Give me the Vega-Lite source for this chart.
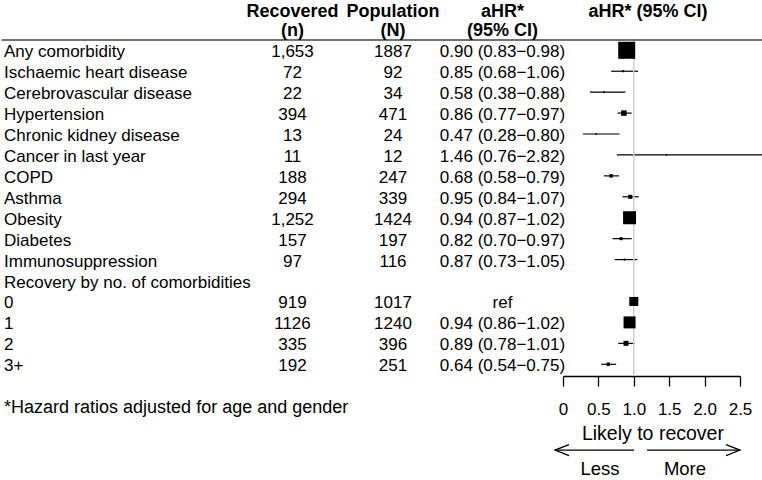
{
  "$schema": "https://vega.github.io/schema/vega-lite/v6.json",
  "width": 762,
  "height": 376,
  "autosize": {"type": "pad"},
  "padding": 0,
  "background": "white",
  "config": {
    "view": {"stroke": null},
    "font": "Liberation Sans",
    "text": {"font": "Liberation Sans", "fontSize": 17, "color": "#000", "dy": 2}
  },
  "datasets": {
    "rows": [
      {"row": 0, "label": "Any comorbidity", "n": "1,653", "N": "1887", "ci": "0.90 (0.83−0.98)", "hr": 0.90, "lo": 0.83, "hi": 0.98, "weight": 289},
      {"row": 1, "label": "Ischaemic heart disease", "n": "72", "N": "92", "ci": "0.85 (0.68−1.06)", "hr": 0.85, "lo": 0.68, "hi": 1.06, "weight": 4},
      {"row": 2, "label": "Cerebrovascular disease", "n": "22", "N": "34", "ci": "0.58 (0.38−0.88)", "hr": 0.58, "lo": 0.38, "hi": 0.88, "weight": 3},
      {"row": 3, "label": "Hypertension", "n": "394", "N": "471", "ci": "0.86 (0.77−0.97)", "hr": 0.86, "lo": 0.77, "hi": 0.97, "weight": 30},
      {"row": 4, "label": "Chronic kidney disease", "n": "13", "N": "24", "ci": "0.47 (0.28−0.80)", "hr": 0.47, "lo": 0.28, "hi": 0.80, "weight": 3},
      {"row": 5, "label": "Cancer in last year", "n": "11", "N": "12", "ci": "1.46 (0.76−2.82)", "hr": 1.46, "lo": 0.76, "hi": 2.82, "weight": 2},
      {"row": 6, "label": "COPD", "n": "188", "N": "247", "ci": "0.68 (0.58−0.79)", "hr": 0.68, "lo": 0.58, "hi": 0.79, "weight": 12},
      {"row": 7, "label": "Asthma", "n": "294", "N": "339", "ci": "0.95 (0.84−1.07)", "hr": 0.95, "lo": 0.84, "hi": 1.07, "weight": 16},
      {"row": 8, "label": "Obesity", "n": "1,252", "N": "1424", "ci": "0.94 (0.87−1.02)", "hr": 0.94, "lo": 0.87, "hi": 1.02, "weight": 169},
      {"row": 9, "label": "Diabetes", "n": "157", "N": "197", "ci": "0.82 (0.70−0.97)", "hr": 0.82, "lo": 0.70, "hi": 0.97, "weight": 9},
      {"row": 10, "label": "Immunosuppression", "n": "97", "N": "116", "ci": "0.87 (0.73−1.05)", "hr": 0.87, "lo": 0.73, "hi": 1.05, "weight": 4},
      {"row": 11, "label": "Recovery by no. of comorbidities", "n": "", "N": "", "ci": "", "hr": null, "lo": null, "hi": null, "weight": null},
      {"row": 12, "label": "0", "n": "919", "N": "1017", "ci": "ref", "hr": 1.0, "lo": null, "hi": null, "weight": 81},
      {"row": 13, "label": "1", "n": "1126", "N": "1240", "ci": "0.94 (0.86−1.02)", "hr": 0.94, "lo": 0.86, "hi": 1.02, "weight": 144},
      {"row": 14, "label": "2", "n": "335", "N": "396", "ci": "0.89 (0.78−1.01)", "hr": 0.89, "lo": 0.78, "hi": 1.01, "weight": 25},
      {"row": 15, "label": "3+", "n": "192", "N": "251", "ci": "0.64 (0.54−0.75)", "hr": 0.64, "lo": 0.54, "hi": 0.75, "weight": 12}
    ]
  },
  "data": {"name": "rows"},
  "layer": [
    {
      "transform": [{"filter": "datum.lo != null"}],
      "mark": {"type": "rule", "color": "#000", "strokeWidth": 1.2},
      "encoding": {
        "x": {"field": "lo", "type": "quantitative",
          "scale": {"domain": [0, 2.5], "range": [561, 738], "nice": false, "zero": false},
          "axis": {"values": [0, 0.5, 1, 1.5, 2, 2.5], "labelExpr": "datum.value == 0 ? '0' : format(datum.value, '.1f')", "title": null, "grid": false, "orient": "bottom",
            "domainColor": "#000", "domainWidth": 1.3, "tickColor": "#000", "tickWidth": 1.3, "tickSize": 10,
            "labelFontSize": 17, "labelColor": "#000", "labelFont": "Liberation Sans", "labelPadding": 15.5, "labelFlush": false, "labelOverlap": false}},
        "x2": {"field": "hi"},
        "y": {"field": "row", "type": "quantitative",
          "scale": {"domain": [-2.403, 15.561], "reverse": true, "nice": false, "zero": false}, "axis": null}
      }
    },
    {
      "data": {"values": [{}]},
      "mark": {"type": "rule", "color": "#d0d0d0", "strokeWidth": 1.5},
      "encoding": {
        "x": {"datum": 1},
        "y": {"datum": -0.49, "axis": null},
        "y2": {"datum": 15.561}
      }
    },
    {
      "data": {"values": [{}]},
      "mark": {"type": "rule", "color": "#444", "strokeWidth": 1.5},
      "encoding": {
        "x": {"datum": -7.93},
        "x2": {"datum": 2.84},
        "y": {"datum": -0.49, "axis": null}
      }
    },
    {
      "transform": [{"filter": "datum.hr != null"}],
      "mark": {"type": "point", "shape": "square", "filled": true, "color": "#000", "opacity": 1},
      "encoding": {
        "x": {"field": "hr", "type": "quantitative"},
        "y": {"field": "row", "type": "quantitative", "axis": null},
        "size": {"field": "weight", "type": "quantitative", "scale": {"type": "linear", "domain": [0, 300], "range": [0, 300]}, "legend": null}
      }
    },
    {
      "mark": {"type": "text", "align": "left"},
      "encoding": {
        "x": {"datum": -7.895},
        "y": {"field": "row", "type": "quantitative", "axis": null},
        "text": {"field": "label"}
      }
    },
    {
      "mark": {"type": "text", "align": "center"},
      "encoding": {
        "x": {"datum": -3.821},
        "y": {"field": "row", "type": "quantitative", "axis": null},
        "text": {"field": "n"}
      }
    },
    {
      "mark": {"type": "text", "align": "center"},
      "encoding": {
        "x": {"datum": -2.401},
        "y": {"field": "row", "type": "quantitative", "axis": null},
        "text": {"field": "N"}
      }
    },
    {
      "mark": {"type": "text", "align": "center"},
      "encoding": {
        "x": {"datum": -0.855},
        "y": {"field": "row", "type": "quantitative", "axis": null},
        "text": {"field": "ci"}
      }
    },
    {
      "data": {"values": [{}]},
      "mark": {"type": "text", "align": "center", "fontWeight": "bold", "fontSize": 18, "text": "Recovered"},
      "encoding": {"x": {"datum": -3.821}, "y": {"datum": -1.93, "axis": null}}
    },
    {
      "data": {"values": [{}]},
      "mark": {"type": "text", "align": "center", "fontWeight": "bold", "fontSize": 18, "text": "(n)"},
      "encoding": {"x": {"datum": -3.821}, "y": {"datum": -1.0, "axis": null}}
    },
    {
      "data": {"values": [{}]},
      "mark": {"type": "text", "align": "center", "fontWeight": "bold", "fontSize": 18, "text": "Population"},
      "encoding": {"x": {"datum": -2.401}, "y": {"datum": -1.93, "axis": null}}
    },
    {
      "data": {"values": [{}]},
      "mark": {"type": "text", "align": "center", "fontWeight": "bold", "fontSize": 18, "text": "(N)"},
      "encoding": {"x": {"datum": -2.401}, "y": {"datum": -1.0, "axis": null}}
    },
    {
      "data": {"values": [{}]},
      "mark": {"type": "text", "align": "center", "fontWeight": "bold", "fontSize": 18, "text": "aHR*"},
      "encoding": {"x": {"datum": -0.855}, "y": {"datum": -1.93, "axis": null}}
    },
    {
      "data": {"values": [{}]},
      "mark": {"type": "text", "align": "center", "fontWeight": "bold", "fontSize": 18, "text": "(95% CI)"},
      "encoding": {"x": {"datum": -0.855}, "y": {"datum": -1.0, "axis": null}}
    },
    {
      "data": {"values": [{}]},
      "mark": {"type": "text", "align": "center", "fontWeight": "bold", "fontSize": 18, "text": "aHR* (95% CI)"},
      "encoding": {"x": {"datum": 1.2}, "y": {"datum": -1.93, "axis": null}}
    },
    {
      "data": {"values": [{}]},
      "mark": {"type": "text", "align": "left", "fontSize": 18, "text": "*Hazard ratios adjusted for age and gender"},
      "encoding": {"x": {"datum": -7.895}, "y": {"datum": 17.0, "axis": null}}
    },
    {
      "data": {"values": [{}]},
      "mark": {"type": "text", "align": "center", "fontSize": 19.5, "text": "Likely to recover"},
      "encoding": {"x": {"datum": 1.27}, "y": {"datum": 18.24, "axis": null}}
    },
    {
      "data": {"values": [{}]},
      "mark": {"type": "text", "align": "center", "fontSize": 18.5, "dy": 0, "text": "Less"},
      "encoding": {"x": {"datum": 0.523}, "y": {"datum": 20.0, "axis": null}}
    },
    {
      "data": {"values": [{}]},
      "mark": {"type": "text", "align": "center", "fontSize": 18.5, "dy": 0, "text": "More"},
      "encoding": {"x": {"datum": 1.723}, "y": {"datum": 20.0, "axis": null}}
    },
    {
      "data": {"values": [{}]},
      "mark": {"type": "rule", "color": "#000", "strokeWidth": 1.3},
      "encoding": {"x": {"datum": -0.113}, "x2": {"datum": 1.003}, "y": {"datum": 19.1, "axis": null}}
    },
    {
      "data": {"values": [{}]},
      "mark": {"type": "rule", "color": "#000", "strokeWidth": 1.3},
      "encoding": {"x": {"datum": 1.186}, "x2": {"datum": 2.5}, "y": {"datum": 19.1, "axis": null}}
    },
    {
      "data": {"values": [{}]},
      "mark": {"type": "point", "shape": "M2.8,-1.1L0,0L2.8,1.1", "size": 100, "filled": false, "color": "#000", "strokeWidth": 1.3, "opacity": 1},
      "encoding": {"x": {"datum": -0.113}, "y": {"datum": 19.1, "axis": null}}
    },
    {
      "data": {"values": [{}]},
      "mark": {"type": "point", "shape": "M-2.8,-1.1L0,0L-2.8,1.1", "size": 100, "filled": false, "color": "#000", "strokeWidth": 1.3, "opacity": 1},
      "encoding": {"x": {"datum": 2.5}, "y": {"datum": 19.1, "axis": null}}
    }
  ]
}
